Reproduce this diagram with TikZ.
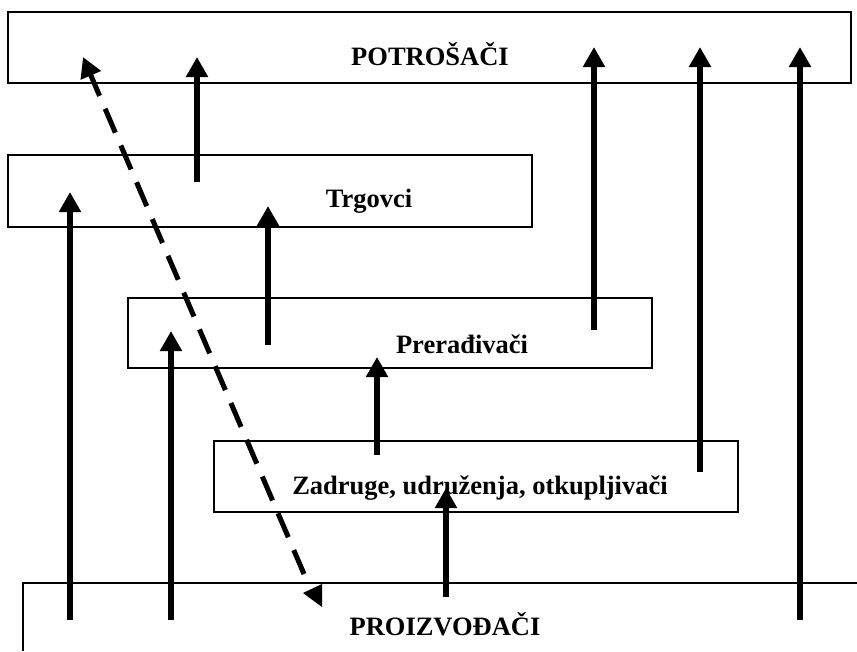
\documentclass[tikz,border=0pt]{standalone}
\usepackage{fontspec}
\setmainfont{Liberation Serif}
\usetikzlibrary{arrows.meta}
\begin{document}
\begin{tikzpicture}[x=1pt,y=-1pt,
  box/.style={draw,line width=1.6pt,inner sep=0pt},
  lbl/.style={anchor=base,inner sep=0pt,font=\fontsize{26.5}{30}\selectfont\bfseries},
  flow/.style={line width=5.5pt,-{Triangle[width=21pt,length=20pt]}},
  dflow/.style={line width=5pt,dash pattern=on 26pt off 14pt,-{Triangle[width=21pt,length=20pt]}}]
\useasboundingbox (0,0) rectangle (857,651);
% boxes
\node[box,minimum width=843pt,minimum height=71pt] (pot) at (429.5,47.5) {};
\node[box,minimum width=524pt,minimum height=72pt] (trg) at (270,191) {};
\node[box,minimum width=524pt,minimum height=70pt] (pre) at (390,333) {};
\node[box,minimum width=524pt,minimum height=71pt] (zad) at (476,476.5) {};
\coordinate (pa) at (23,651);
\coordinate (pb) at (23,583);
\coordinate (pc) at (857,583);
\draw[line width=1.6pt] (pa) -- (pb) -- (pc);
% labels
\node[lbl] (tpot) at (430,65) {POTROŠAČI};
\node[lbl] (ttrg) at (369,207) {Trgovci};
\node[lbl] (tpre) at (462,353) {Prerađivači};
\node[lbl] (tzad) at (480,494) {Zadruge, udruženja, otkupljivači};
\node[lbl] (tpro) at (445,635) {PROIZVOĐAČI};
% arrow end points
\coordinate (a1s) at (70,620);  \coordinate (a1e) at (70,192);
\coordinate (a2s) at (171,620); \coordinate (a2e) at (171,331);
\coordinate (a3s) at (197,182); \coordinate (a3e) at (197,57);
\coordinate (a4s) at (268,345); \coordinate (a4e) at (268,206);
\coordinate (a5s) at (377,455); \coordinate (a5e) at (377,357);
\coordinate (a6s) at (446,597); \coordinate (a6e) at (446,488);
\coordinate (a7s) at (594,330); \coordinate (a7e) at (594,47);
\coordinate (a8s) at (700,472); \coordinate (a8e) at (700,47);
\coordinate (a9s) at (800,620); \coordinate (a9e) at (800,47);
\foreach \i in {1,...,9} {\draw[flow] (a\i s) -- (a\i e);}
% dashed arrow
\coordinate (ds) at (304,574);
\coordinate (de) at (83,57);
\draw[dflow] (ds) -- (de);
\coordinate (t1) at (303,593);
\coordinate (t2) at (322,584);
\coordinate (t3) at (322,607);
\fill (t1) -- (t2) -- (t3) -- cycle;
\end{tikzpicture}
\end{document}
